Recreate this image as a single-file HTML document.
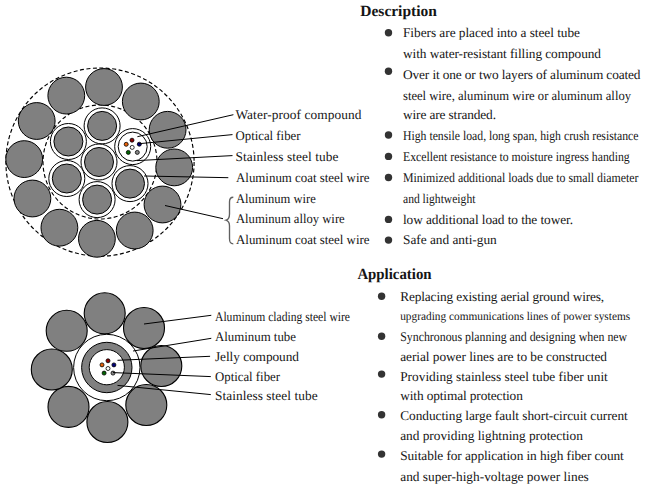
<!DOCTYPE html>
<html><head><meta charset="utf-8"><style>
html,body{margin:0;padding:0;background:#fff;width:648px;height:488px;overflow:hidden}
svg{display:block}
text{font-family:"Liberation Serif",serif;fill:#151515;text-rendering:geometricPrecision}
</style></head><body>
<svg width="648" height="488" viewBox="0 0 648 488">
<circle cx="100.00" cy="162.10" r="94.10" fill="none" stroke="#000" stroke-width="1.15" stroke-dasharray="4 2.5"/>
<circle cx="100.00" cy="162.00" r="57.00" fill="none" stroke="#000" stroke-width="1.15" stroke-dasharray="4 2.5"/>
<circle cx="104.00" cy="87.00" r="18.40" fill="#808080" stroke="#000" stroke-width="1.0" />
<circle cx="140.80" cy="101.50" r="18.40" fill="#808080" stroke="#000" stroke-width="1.0" />
<circle cx="167.60" cy="129.80" r="18.40" fill="#808080" stroke="#000" stroke-width="1.0" />
<circle cx="174.20" cy="167.40" r="18.40" fill="#808080" stroke="#000" stroke-width="1.0" />
<circle cx="162.50" cy="204.50" r="18.40" fill="#808080" stroke="#000" stroke-width="1.0" />
<circle cx="134.70" cy="230.50" r="18.40" fill="#808080" stroke="#000" stroke-width="1.0" />
<circle cx="96.90" cy="238.80" r="18.40" fill="#808080" stroke="#000" stroke-width="1.0" />
<circle cx="59.40" cy="227.70" r="18.40" fill="#808080" stroke="#000" stroke-width="1.0" />
<circle cx="32.40" cy="198.50" r="18.40" fill="#808080" stroke="#000" stroke-width="1.0" />
<circle cx="24.20" cy="159.10" r="18.40" fill="#808080" stroke="#000" stroke-width="1.0" />
<circle cx="36.70" cy="121.00" r="18.40" fill="#808080" stroke="#000" stroke-width="1.0" />
<circle cx="66.30" cy="95.60" r="18.40" fill="#808080" stroke="#000" stroke-width="1.0" />
<circle cx="102.10" cy="125.90" r="18.00" fill="#fff" stroke="#000" stroke-width="1.0" />
<circle cx="102.10" cy="125.90" r="14.50" fill="#808080" stroke="#000" stroke-width="1.0" />
<circle cx="68.40" cy="141.50" r="18.00" fill="#fff" stroke="#000" stroke-width="1.0" />
<circle cx="68.40" cy="141.50" r="14.50" fill="#808080" stroke="#000" stroke-width="1.0" />
<circle cx="99.00" cy="162.00" r="18.00" fill="#fff" stroke="#000" stroke-width="1.0" />
<circle cx="99.00" cy="162.00" r="14.50" fill="#808080" stroke="#000" stroke-width="1.0" />
<circle cx="66.80" cy="178.50" r="18.00" fill="#fff" stroke="#000" stroke-width="1.0" />
<circle cx="66.80" cy="178.50" r="14.50" fill="#808080" stroke="#000" stroke-width="1.0" />
<circle cx="130.00" cy="183.60" r="18.00" fill="#fff" stroke="#000" stroke-width="1.0" />
<circle cx="130.00" cy="183.60" r="14.50" fill="#808080" stroke="#000" stroke-width="1.0" />
<circle cx="97.10" cy="199.60" r="18.00" fill="#fff" stroke="#000" stroke-width="1.0" />
<circle cx="97.10" cy="199.60" r="14.50" fill="#808080" stroke="#000" stroke-width="1.0" />
<circle cx="132.70" cy="146.60" r="18.00" fill="#fff" stroke="#000" stroke-width="1.0" />
<circle cx="132.70" cy="146.60" r="14.50" fill="#fff" stroke="#000" stroke-width="1.0" />
<circle cx="132.00" cy="140.20" r="2.00" fill="#8b0000" stroke="#000" stroke-width="0.8" />
<circle cx="126.20" cy="144.30" r="2.00" fill="#e8620a" stroke="#000" stroke-width="0.8" />
<circle cx="139.30" cy="144.20" r="2.00" fill="#00007a" stroke="#000" stroke-width="0.8" />
<circle cx="132.20" cy="147.40" r="2.00" fill="#fff" stroke="#000" stroke-width="0.8" />
<circle cx="128.30" cy="152.40" r="2.00" fill="#006400" stroke="#000" stroke-width="0.8" />
<circle cx="137.30" cy="152.40" r="2.00" fill="#888" stroke="#000" stroke-width="0.8" />
<line x1="137.4" y1="136.7" x2="233.4" y2="114.7" stroke="#000" stroke-width="1.0"/>
<line x1="139.2" y1="143.7" x2="232.5" y2="134.6" stroke="#000" stroke-width="1.0"/>
<line x1="137" y1="160.6" x2="232.5" y2="155.6" stroke="#000" stroke-width="1.0"/>
<line x1="144.1" y1="176" x2="228.3" y2="177.7" stroke="#000" stroke-width="1.0"/>
<line x1="165" y1="205.5" x2="223" y2="218.7" stroke="#000" stroke-width="1.0"/>
<path d="M233.3,197.2 C230,197.2 229.5,199 229.5,202 L229.5,214 C229.5,218 228.5,219.5 226,220.2 C228.5,221 229.5,222.5 229.5,226 L229.5,238.5 C229.5,242 230,243.8 233.3,243.8" fill="none" stroke="#606060" stroke-width="1.35"/>
<circle cx="104.70" cy="313.30" r="20.50" fill="#808080" stroke="#000" stroke-width="1.1" />
<circle cx="144.00" cy="328.00" r="20.50" fill="#808080" stroke="#000" stroke-width="1.1" />
<circle cx="161.30" cy="366.00" r="20.50" fill="#808080" stroke="#000" stroke-width="1.1" />
<circle cx="146.30" cy="405.00" r="20.50" fill="#808080" stroke="#000" stroke-width="1.1" />
<circle cx="107.40" cy="422.00" r="20.50" fill="#808080" stroke="#000" stroke-width="1.1" />
<circle cx="68.50" cy="406.90" r="20.50" fill="#808080" stroke="#000" stroke-width="1.1" />
<circle cx="51.80" cy="369.50" r="20.50" fill="#808080" stroke="#000" stroke-width="1.1" />
<circle cx="66.70" cy="330.80" r="20.50" fill="#808080" stroke="#000" stroke-width="1.1" />
<circle cx="106.80" cy="367.50" r="33.20" fill="#fff" stroke="#000" stroke-width="1.0" />
<circle cx="106.80" cy="367.50" r="25.20" fill="#808080" stroke="#000" stroke-width="1.0" />
<circle cx="106.80" cy="367.20" r="17.60" fill="#fff" stroke="#000" stroke-width="1.0" />
<circle cx="108.00" cy="360.80" r="2.00" fill="#8b0000" stroke="#000" stroke-width="0.8" />
<circle cx="102.00" cy="364.90" r="2.00" fill="#e8620a" stroke="#000" stroke-width="0.8" />
<circle cx="113.90" cy="364.90" r="2.00" fill="#00007a" stroke="#000" stroke-width="0.8" />
<circle cx="108.00" cy="368.50" r="2.00" fill="#fff" stroke="#000" stroke-width="0.8" />
<circle cx="104.10" cy="373.10" r="2.00" fill="#006400" stroke="#000" stroke-width="0.8" />
<circle cx="113.00" cy="373.10" r="2.00" fill="#888" stroke="#000" stroke-width="0.8" />
<line x1="144" y1="324" x2="211.3" y2="315.3" stroke="#000" stroke-width="1.0"/>
<line x1="133.1" y1="351" x2="211.3" y2="338.3" stroke="#000" stroke-width="1.0"/>
<line x1="117.5" y1="360.3" x2="210.1" y2="356.3" stroke="#000" stroke-width="1.0"/>
<line x1="113" y1="372.6" x2="210.8" y2="376.6" stroke="#000" stroke-width="1.0"/>
<line x1="117.5" y1="385.4" x2="210.8" y2="394.6" stroke="#000" stroke-width="1.0"/>
<text x="235.5" y="118.6" font-size="13.33" textLength="126" lengthAdjust="spacing">Water-proof compound</text>
<text x="235.5" y="139.5" font-size="13.33" textLength="65" lengthAdjust="spacingAndGlyphs">Optical fiber</text>
<text x="235.5" y="160.5" font-size="13.33" textLength="103" lengthAdjust="spacing">Stainless steel tube</text>
<text x="236" y="181.7" font-size="13.33" textLength="133.5" lengthAdjust="spacingAndGlyphs">Aluminum coat steel wire</text>
<text x="236" y="202.6" font-size="13.33" textLength="79.8" lengthAdjust="spacingAndGlyphs">Aluminum wire</text>
<text x="236" y="223.2" font-size="13.33" textLength="108.7" lengthAdjust="spacingAndGlyphs">Aluminum alloy wire</text>
<text x="236" y="244.1" font-size="13.33" textLength="133.5" lengthAdjust="spacingAndGlyphs">Aluminum coat steel wire</text>
<text x="360.3" y="16.2" font-size="15.5" font-weight="bold" textLength="76.5" lengthAdjust="spacing">Description</text>
<circle cx="388.50" cy="32.80" r="3.70" fill="#333" stroke="none" stroke-width="0" />
<text x="403" y="37.3" font-size="13.33" textLength="177" lengthAdjust="spacing">Fibers are placed into a steel tube</text>
<text x="403" y="57.6" font-size="13.33" textLength="198" lengthAdjust="spacing">with water-resistant filling compound</text>
<circle cx="388.50" cy="71.30" r="3.70" fill="#333" stroke="none" stroke-width="0" />
<text x="403" y="79" font-size="13.33" textLength="237.5" lengthAdjust="spacing">Over it one or two layers of aluminum coated</text>
<text x="403" y="99.8" font-size="13.33" textLength="228" lengthAdjust="spacingAndGlyphs">steel wire, aluminum wire or aluminum alloy</text>
<text x="403" y="119.1" font-size="13.33" textLength="93" lengthAdjust="spacing">wire are stranded.</text>
<circle cx="388.50" cy="135.00" r="3.70" fill="#333" stroke="none" stroke-width="0" />
<text x="403" y="139.6" font-size="13.33" textLength="235.5" lengthAdjust="spacingAndGlyphs">High tensile load, long span, high crush resistance</text>
<circle cx="388.50" cy="156.40" r="3.70" fill="#333" stroke="none" stroke-width="0" />
<text x="403" y="160.5" font-size="13.33" textLength="226.7" lengthAdjust="spacingAndGlyphs">Excellent resistance to moisture ingress handing</text>
<circle cx="388.50" cy="177.50" r="3.70" fill="#333" stroke="none" stroke-width="0" />
<text x="403" y="181.9" font-size="13.33" textLength="235.5" lengthAdjust="spacingAndGlyphs">Minimized additional loads due to small diameter</text>
<text x="403" y="202.5" font-size="13.33" textLength="72.4" lengthAdjust="spacingAndGlyphs">and lightweight</text>
<circle cx="388.50" cy="219.40" r="3.70" fill="#333" stroke="none" stroke-width="0" />
<text x="403" y="223.7" font-size="13.33" textLength="170" lengthAdjust="spacing">low additional load to the tower.</text>
<circle cx="388.50" cy="240.10" r="3.70" fill="#333" stroke="none" stroke-width="0" />
<text x="403" y="244.4" font-size="13.33" textLength="93.7" lengthAdjust="spacing">Safe and anti-gun</text>
<text x="357.4" y="278.5" font-size="15.5" font-weight="bold" textLength="74.2" lengthAdjust="spacingAndGlyphs">Application</text>
<circle cx="381.60" cy="296.30" r="3.70" fill="#333" stroke="none" stroke-width="0" />
<text x="400.2" y="301.4" font-size="13.33" textLength="204" lengthAdjust="spacing">Replacing existing aerial ground wires,</text>
<text x="400.2" y="320.0" font-size="11.8" textLength="230" lengthAdjust="spacingAndGlyphs">upgrading communications lines of power systems</text>
<circle cx="381.60" cy="336.20" r="3.70" fill="#333" stroke="none" stroke-width="0" />
<text x="400.2" y="341.2" font-size="13.33" textLength="227" lengthAdjust="spacingAndGlyphs">Synchronous planning and designing when new</text>
<text x="400.2" y="360.7" font-size="13.33" textLength="206.8" lengthAdjust="spacing">aerial power lines are to be constructed</text>
<circle cx="381.60" cy="374.10" r="3.70" fill="#333" stroke="none" stroke-width="0" />
<text x="400.2" y="380.9" font-size="13.33" textLength="207.6" lengthAdjust="spacing">Providing stainless steel tube fiber unit</text>
<text x="400.2" y="400.4" font-size="13.33" textLength="122.6" lengthAdjust="spacing">with optimal protection</text>
<circle cx="381.60" cy="414.70" r="3.70" fill="#333" stroke="none" stroke-width="0" />
<text x="400.2" y="419.8" font-size="13.33" textLength="227.6" lengthAdjust="spacing">Conducting large fault short-circuit current</text>
<text x="400.2" y="439.7" font-size="13.33" textLength="182.6" lengthAdjust="spacing">and providing lightning protection</text>
<circle cx="381.60" cy="454.10" r="3.70" fill="#333" stroke="none" stroke-width="0" />
<text x="400.2" y="459.6" font-size="13.33" textLength="223.6" lengthAdjust="spacing">Suitable for application in high fiber count</text>
<text x="400.2" y="480.7" font-size="13.33" textLength="188.6" lengthAdjust="spacing">and super-high-voltage power lines</text>
<text x="215" y="321" font-size="13.33" textLength="135" lengthAdjust="spacingAndGlyphs">Aluminum clading steel wire</text>
<text x="215" y="340.5" font-size="13.33" textLength="81" lengthAdjust="spacingAndGlyphs">Aluminum tube</text>
<text x="215" y="360.6" font-size="13.33" textLength="84" lengthAdjust="spacing">Jelly compound</text>
<text x="215" y="380.5" font-size="13.33" textLength="65" lengthAdjust="spacingAndGlyphs">Optical fiber</text>
<text x="215" y="400.2" font-size="13.33" textLength="102.6" lengthAdjust="spacing">Stainless steel tube</text>
</svg>
</body></html>
